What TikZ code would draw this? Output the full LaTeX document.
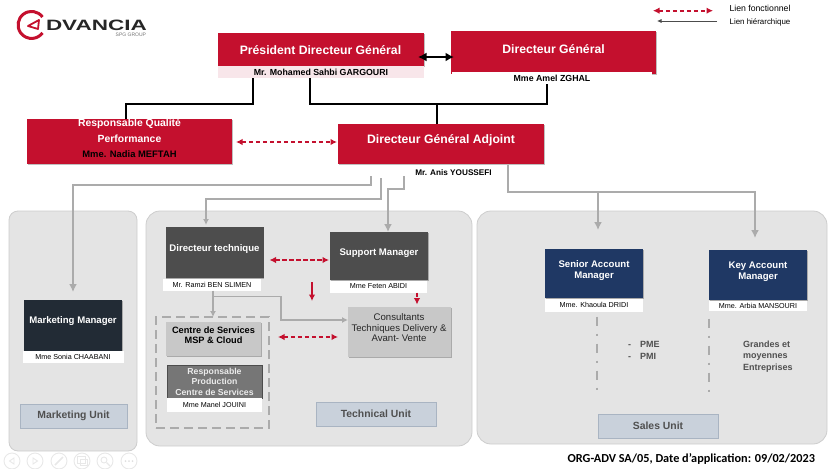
\documentclass[tikz,border=0pt]{standalone}
\usepackage{fontspec}
\setmainfont{Liberation Sans}
\newfontfamily\footfont{Carlito}
\usetikzlibrary{positioning}
\usetikzlibrary{arrows.meta}
\usetikzlibrary{shadows}
\definecolor{advred}{HTML}{C4102E}
\definecolor{panelgray}{HTML}{E4E4E4}
\definecolor{panelline}{HTML}{CDCDCD}
\definecolor{linkgray}{HTML}{ABABAB}
\definecolor{unitblue}{HTML}{C9D1DB}
\definecolor{unitline}{HTML}{A9B4C2}
\definecolor{unittext}{HTML}{505050}
\definecolor{navybox}{HTML}{1F3864}
\definecolor{inkbox}{HTML}{222B35}
\definecolor{darkbox}{HTML}{4D4D4D}
\definecolor{midbox}{HTML}{767676}
\definecolor{lightbox}{HTML}{C8C8C8}
\definecolor{pinkstrip}{HTML}{F8E6EA}
\newcommand{\fsz}[2]{\fontsize{#1}{#2}\selectfont}
\tikzset{%
	% Specifications for style of nodes:
	base/.style = {rectangle, inner sep=0pt, outer sep=0pt, text centered, align=center},
	softshadow/.style = {drop shadow={shadow xshift=0.6pt, shadow yshift=-1.4pt, opacity=0.25, fill=black}},
	panel/.style = {base, rounded corners=9pt, draw=panelline, line width=0.8pt, fill=panelgray},
	redbox/.style = {base, fill=advred, softshadow},
	staffbox/.style = {base, minimum width=98pt, softshadow},
	greybox/.style = {base, fill=lightbox, softshadow},
	unitbox/.style = {base, fill=unitblue, draw=unitline, line width=0.6pt, minimum width=120pt, minimum height=24pt, text=unittext, font=\bfseries\fsz{10.4}{12}},
	namestrip/.style = {base, fill=white, minimum height=12pt, font=\fsz{7.2}{8}},
	bigtitle/.style = {base, text=white, font=\bfseries\fsz{12.2}{14}},
	boxtitle/.style = {base, text=white, font=\bfseries\fsz{9.6}{11}},
	bossname/.style = {base, font=\bfseries\fsz{8.8}{10}},
	note/.style = {base, text=unittext, font=\bfseries\fsz{9}{11.5}},
	hier/.style = {draw=black, line width=1.5pt},
	grayline/.style = {draw=linkgray, line width=2.2pt, -{Latex[width=8pt,length=8pt]}},
	thinlink/.style = {draw=linkgray, line width=1.5pt, -{Latex[width=6pt,length=6pt]}},
	fonct/.style = {draw=advred, line width=1.6pt, dash pattern=on 4.5pt off 2.5pt, {Latex[width=6.5pt,length=6.5pt]}-{Latex[width=6.5pt,length=6.5pt]}},
	dashdot/.style = {draw=linkgray, line width=2pt, dash pattern=on 9.5pt off 7.5pt on 2pt off 8pt},
	ctrl/.style = {draw=black!9, line width=0.9pt},
}
\begin{document}
\begin{tikzpicture}[x=1pt,y=-1pt]
	\useasboundingbox (0,0) rectangle (839,469);

	% unit panels
	\node (MktPanel) [panel, minimum width=128pt, minimum height=240pt] at (73,331) {};
	\node (TechPanel) [panel, rounded corners=14pt, minimum width=326pt, minimum height=235pt] at (309,328.5) {};
	\node (SalesPanel) [panel, rounded corners=14pt, minimum width=350pt, minimum height=233pt] at (652,327.5) {};

	% logo
	\draw [advred, line width=3pt] (42.5,17) arc[start angle=-36, end angle=-324, radius=13.5];
	\draw [advred, line width=1.8pt, line join=round] (28,26) -- (39,20) -- (38,29) -- cycle;
	\node (LogoText) [base, text=black!85, font=\bfseries\fsz{15}{15}, xscale=1.5, anchor=west] at (46,25.5) {DVANCIA};
	\node (LogoGroup) [base, text=black!55, font=\fsz{5}{5}, anchor=east] at (146,35) {SPG GROUP};

	% legend
	\coordinate (LegA) at (653,10.7);
	\coordinate (LegB) at (713,10.7);
	\coordinate (LegC) at (717,21);
	\coordinate (LegD) at (657,21);
	\draw [fonct] (LegA) -- (LegB);
	\draw [draw=black!70, line width=0.7pt, -{Latex[width=4pt,length=4.5pt]}] (LegC) -- (LegD);
	\node (LegF) [base, font=\fsz{8.7}{10}] at (760,8) {Lien fonctionnel};
	\node (LegH) [base, font=\fsz{7.9}{10}] at (760,22) {Lien hiérarchique};

	% direction
	\node (PDG) [redbox, minimum width=206pt, minimum height=33pt] at (321,49.5) {};
	\node (PDGt) [bigtitle] at (320.5,50.3) {Président Directeur Général};
	\node (PDGn) [namestrip, bossname, fill=pinkstrip, minimum width=206pt, below=0pt of PDG] {Mr. Mohamed Sahbi GARGOURI};

	\node (DG) [redbox, minimum width=205pt, minimum height=43pt] at (553.5,52.5) {};
	\node (DGt) [bigtitle] at (553.5,48.7) {Directeur Général};
	\node (DGn) [namestrip, bossname, minimum width=200pt, below=-2pt of DG, xshift=-1.5pt] {Mme Amel ZGHAL};

	\node (RQ) [redbox, minimum width=205pt, minimum height=45pt] at (129.5,141.5) {};
	\node (RQt) [base, text=white, font=\bfseries\fsz{10.4}{15.5}] at (129.5,130.7) {Responsable Qualité\\Performance};
	\node (RQn) [base, font=\bfseries\fsz{9.4}{11}] at (129.5,153.7) {Mme. Nadia MEFTAH};

	\node (DGA) [redbox, minimum width=206pt, minimum height=40pt] at (441,144) {};
	\node (DGAt) [bigtitle] at (441,140.3) {Directeur Général Adjoint};
	\node (DGAn) [bossname, font=\bfseries\fsz{8.2}{10}] at (453.5,173) {Mr. Anis YOUSSEFI};

	% marketing unit
	\node (MM) [staffbox, fill=inkbox, minimum height=51pt] at (73,325.5) {};
	\node (MMt) [boxtitle] at (73,321) {Marketing Manager};
	\node (MMn) [namestrip, minimum width=101pt, below=0pt of MM] {Mme Sonia CHAABANI};
	\node (MktUnit) [unitbox, minimum width=107pt] at (73.5,416) {Marketing Unit};

	% technical unit
	\node (DT) [staffbox, fill=darkbox, minimum height=51pt] at (214.5,252.5) {};
	\node (DTt) [boxtitle] at (214.5,249) {Directeur technique};
	\node (DTn) [namestrip, minimum width=98pt, below=0.5pt of DT, xshift=-2.5pt] {Mr. Ramzi BEN SLIMEN};

	\node (SM) [staffbox, fill=darkbox, minimum height=48pt] at (379,256) {};
	\node (SMt) [boxtitle] at (379,253) {Support Manager};
	\node (SMn) [namestrip, minimum width=97pt, below=0.5pt of SM, xshift=-0.5pt] {Mme Feten ABIDI};

	\node (CSgroup) [base, draw=linkgray, line width=1.3pt, dash pattern=on 9pt off 5pt, minimum width=113pt, minimum height=111pt] at (212.5,372.5) {};
	\node (CS) [greybox, minimum width=95pt, minimum height=34pt] at (213.5,339) {};
	\node (CSt) [base, font=\bfseries\fsz{9.2}{10}] at (213.5,335) {Centre de Services\\MSP \& Cloud};
	\node (RP) [base, fill=midbox, draw=black!70, line width=0.5pt, minimum width=95pt, minimum height=33pt] at (214.5,381.5) {};
	\node (RPt) [base, text=white!92!black, font=\bfseries\fsz{8.7}{10.5}] at (214.5,381.5) {Responsable\\Production\\Centre de Services};
	\node (RPn) [namestrip, minimum width=95pt, minimum height=14pt, below=0pt of RP] {Mme Manel JOUINI};

	\node (CT) [greybox, minimum width=103pt, minimum height=50pt] at (399.5,332) {};
	\node (CTt) [base, font=\fsz{9.6}{10.5}, text=black!85] at (399,327.7) {Consultants\\Techniques Delivery \&\\Avant- Vente};
	\node (TechUnit) [unitbox] at (376,414) {Technical Unit};

	% sales unit
	\node (SA) [staffbox, fill=navybox, minimum height=49pt] at (594,273.5) {};
	\node (SAt) [boxtitle] at (594,270.5) {Senior Account\\Manager};
	\node (SAn) [namestrip, minimum width=98pt, minimum height=13pt, below=0.5pt of SA] {Mme. Khaoula DRIDI};

	\node (KA) [staffbox, fill=navybox, minimum height=50pt] at (758,275) {};
	\node (KAt) [boxtitle] at (758,271.5) {Key Account\\Manager};
	\node (KAn) [namestrip, minimum width=98pt, minimum height=10pt, below=0.5pt of KA] {Mme. Arbia MANSOURI};

	\node (PmeNote) [note, anchor=west, align=left] at (628,350.5) {-\hspace{9pt}PME\\-\hspace{9pt}PMI};
	\node (GeNote) [note, anchor=west, align=left] at (743,356.5) {Grandes et\\moyennes\\Entreprises};
	\node (SalesUnit) [unitbox] at (658,426) {Sales Unit};

	\node (Ref) [base, anchor=east, font=\footfont\bfseries\fsz{12.25}{14}] at (815,459) {ORG-ADV SA/05, Date d’application: 09/02/2023};

	% hierarchy
	\draw [hier] ([xshift=-68pt]PDGn.south) -- ++(0,26) -| ([xshift=-3.5pt]RQ.north);
	\draw [hier] ([xshift=-11pt]PDGn.south) -- ++(0,26) -| ([xshift=-5pt]DGn.south);
	\draw [hier] ([xshift=-4pt]DGA.north) -- ++(0,-20);
	\draw [draw=black, line width=2.8pt, {Latex[width=9pt,length=8.5pt]}-{Latex[width=9pt,length=8.5pt]}, shorten <=-6pt, shorten >=-3pt] ([yshift=-7.5pt]PDG.east) -- ([yshift=-4.5pt]DG.west);

	% links to the units
	\draw [grayline] ([xshift=33pt,yshift=-12pt]DGA.south west) -- ++(0,9) -| ([yshift=8pt]MM.north);
	\draw [thinlink] ([xshift=43pt,yshift=-14pt]DGA.south west) -- ++(0,21) -| ([xshift=-8.5pt,yshift=2pt]DT.north);
	\draw [grayline] ([xshift=66pt,yshift=-12pt]DGA.south west) -- ++(0,13) -| ([xshift=9pt]SM.north);
	\draw [grayline] ([xshift=-36pt,yshift=-1pt]DGA.south east) -- ++(0,27) -| ([xshift=-3pt,yshift=12pt]KA.north);
	\draw [grayline] ([xshift=4pt,yshift=56pt]SA.north) -- ([xshift=4pt,yshift=19pt]SA.north);

	\draw [thinlink, line width=1.9pt] (DTn.south) ++(1,0) coordinate (DTdown) -- (DTdown |- CSgroup.north);
	\draw [thinlink] ([yshift=-6pt]DTdown) -- ++(68,0) |- ([yshift=12pt]CT.west);

	% functional links
	\draw [fonct, shorten <=4pt, shorten >=1pt] ([yshift=-0.5pt]RQ.east) -- ([yshift=2pt]DGA.west);
	\draw [fonct] ([xshift=6pt,yshift=-7.5pt]DT.east) -- ([xshift=-1pt,yshift=-4pt]SM.west);
	\draw [fonct] ([xshift=17pt,yshift=2pt]CS.east) -- ([xshift=-10pt,yshift=-5pt]CT.west);
	\coordinate (ArrA) at (312,282);
	\coordinate (ArrB) at (312,301);
	\draw [draw=advred, line width=1.6pt, -{Latex[width=6.5pt,length=6.5pt]}] (ArrA) -- (ArrB);
	\draw [draw=advred, line width=1.6pt, dash pattern=on 4pt off 2pt, -{Latex[width=6.5pt,length=6.5pt]}] ([xshift=-10pt]SMn.south east) -- ++(0,12);

	% client segments
	\draw [dashdot] ([xshift=3pt,yshift=-5pt]SAn.south) -- ++(0,75);
	\draw [dashdot] ([yshift=-8pt]KAn.south west) -- ++(0,75);

	% slide controls
	\foreach \cx/\cname in {12/cA,35/cB,59/cC,82/cD,105/cE,129/cF}
		\node (\cname) [base, ctrl, circle, minimum size=16pt] at (\cx,461) {};
	\draw [ctrl] (14,458) -- (9.5,461) -- (14,464) -- cycle;
	\draw [ctrl] (33,458) -- (37.5,461) -- (33,464) -- cycle;
	\draw [ctrl, line width=1.6pt] (55,465) -- (63,457);
	\draw [ctrl] (77.5,456.5) rectangle (85,463);
	\draw [ctrl] (80.5,459.5) rectangle (87,465.5);
	\draw [ctrl] (104,460) circle[radius=3];
	\draw [ctrl, line width=1.3pt] (106.5,462.5) -- (110,466);
	\foreach \dx in {125.5,129,132.5}
		\fill [black!12] (\dx,461) circle[radius=1];
\end{tikzpicture}
\end{document}
